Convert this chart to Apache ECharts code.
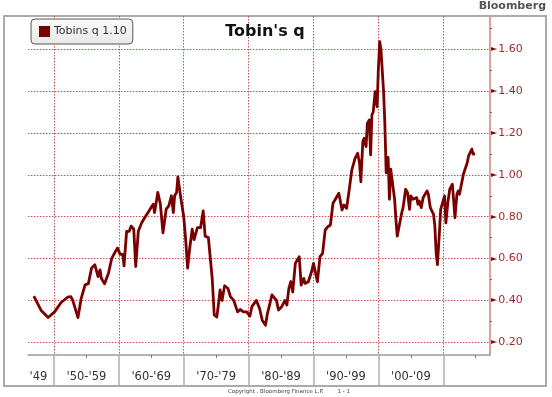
<!DOCTYPE html>
<html>
<head>
<meta charset="utf-8">
<title>Tobin's q</title>
<script src="https://cdn.jsdelivr.net/npm/echarts@6/dist/echarts.min.js"></script>
<style>
  html, body { margin: 0; padding: 0; background: #fff; }
</style>
</head>
<body>
<div id="main" style="width:552px;height:397px;"></div>
<script type="text/javascript">
// quarterly-ish readings of Tobin's q
var years = [
  1946.9, 1948.0, 1949.1, 1950.1, 1951.1, 1952.1, 1952.6, 1952.9, 1953.7, 1954.2,
  1954.8, 1955.3, 1955.8, 1956.3, 1956.8, 1957.1, 1957.3, 1957.8, 1958.4, 1958.9,
  1959.5, 1959.8, 1960.2, 1960.6, 1960.8, 1961.2, 1961.6, 1961.9, 1962.3, 1962.6,
  1963.0, 1963.5, 1964.0, 1964.5, 1964.9, 1965.3, 1965.5, 1966.0, 1966.4, 1966.8,
  1967.3, 1967.7, 1968.1, 1968.4, 1968.6, 1968.9, 1969.1, 1969.5, 1970.0, 1970.3,
  1970.6, 1970.9, 1971.3, 1971.6, 1972.1, 1972.6, 1973.0, 1973.3, 1973.8, 1974.4,
  1974.7, 1975.1, 1975.4, 1975.6, 1975.9, 1976.3, 1976.8, 1977.2, 1977.7, 1978.3,
  1978.7, 1979.2, 1979.7, 1980.2, 1980.5, 1981.2, 1981.7, 1982.1, 1982.6, 1982.9,
  1983.6, 1984.3, 1984.6, 1985.1, 1985.6, 1985.9, 1986.2, 1986.5, 1986.8, 1987.2,
  1987.5, 1987.8, 1988.1, 1988.5, 1988.7, 1989.2, 1989.7, 1990.0, 1990.3, 1990.6,
  1991.0, 1991.4, 1991.8, 1992.2, 1992.6, 1993.0, 1993.3, 1993.6, 1993.9, 1994.4,
  1994.7, 1995.1, 1995.5, 1995.9, 1996.4, 1996.8, 1997.1, 1997.3, 1997.6, 1997.8,
  1998.1, 1998.3, 1998.6, 1998.8, 1999.0, 1999.2, 1999.5, 1999.6, 1999.8, 2000.0,
  2000.2, 2000.4, 2000.8, 2001.0, 2001.2, 2001.5, 2001.7, 2001.9, 2002.2, 2002.5,
  2002.7, 2002.9, 2003.2, 2003.6, 2003.8, 2004.2, 2004.5, 2004.8, 2005.0, 2005.3,
  2005.6, 2005.9, 2006.1, 2006.3, 2006.6, 2006.9, 2007.2, 2007.5, 2007.7, 2008.0,
  2008.2, 2008.5, 2008.7, 2008.9, 2009.1, 2009.4, 2009.6, 2009.9, 2010.2, 2010.4,
  2010.7, 2011.0, 2011.4, 2011.6, 2011.8, 2012.1, 2012.3, 2012.5, 2012.7, 2012.9,
  2013.1, 2013.4, 2013.7, 2013.9, 2014.2, 2014.4, 2014.6, 2014.9
];
var qValues = [
  0.42, 0.353, 0.318, 0.345, 0.39, 0.415, 0.418, 0.40, 0.318, 0.41,
  0.474, 0.48, 0.555, 0.57, 0.514, 0.546, 0.506, 0.479, 0.53, 0.60,
  0.635, 0.65, 0.62, 0.62, 0.565, 0.73, 0.73, 0.755, 0.74, 0.562,
  0.73, 0.77, 0.796, 0.82, 0.84, 0.86, 0.82, 0.916, 0.86, 0.723,
  0.836, 0.852, 0.90, 0.82, 0.90, 0.916, 0.99, 0.90, 0.80, 0.69,
  0.554, 0.643, 0.74, 0.69, 0.748, 0.748, 0.828, 0.707, 0.70, 0.50,
  0.33, 0.32, 0.394, 0.45, 0.40, 0.47, 0.458, 0.418, 0.40, 0.345,
  0.357, 0.345, 0.345, 0.325, 0.37, 0.40, 0.36, 0.305, 0.281, 0.337,
  0.426, 0.40, 0.354, 0.37, 0.40, 0.378, 0.457, 0.49, 0.44, 0.577,
  0.593, 0.609, 0.473, 0.505, 0.481, 0.489, 0.537, 0.577, 0.577, 0.489,
  0.609, 0.625, 0.736, 0.752, 0.76, 0.864, 0.88, 0.888, 0.912, 0.832,
  0.856, 0.84, 0.927, 1.023, 1.079, 1.103, 1.055, 0.967, 1.159, 1.175,
  1.135, 1.246, 1.262, 1.095, 1.286, 1.30, 1.398, 1.39, 1.326, 1.509,
  1.637, 1.597, 1.398, 1.24, 1.01, 1.083, 0.883, 1.027, 1.027, 0.883,
  0.787, 0.707, 0.707, 0.819, 0.843, 0.931, 0.915, 0.835, 0.899, 0.883,
  0.883, 0.891, 0.859, 0.875, 0.843, 0.891, 0.907, 0.923, 0.907, 0.843,
  0.843, 0.811, 0.755, 0.627, 0.571, 0.723, 0.835, 0.867, 0.899, 0.771,
  0.867, 0.931, 0.955, 0.947, 0.795, 0.907, 0.923, 0.907, 0.939, 0.931,
  1.003, 1.003, 1.059, 1.091, 1.091, 1.123, 1.099, 1.10
];

// axis ticks and labels
var decadeTicks = [1950, 1960, 1970, 1980, 1990, 2000, 2010];
var halfDecadeTicks = [1945, 1955, 1965, 1975, 1985, 1995, 2005, 2015];
var decadeLabelPos = [1947.6, 1955, 1965, 1975, 1985, 1995, 2005];
var decadeLabels = ["'49", "'50-'59", "'60-'69", "'70-'79", "'80-'89", "'90-'99", "'00-'09"];
var yTicks = [0.2, 0.4, 0.6, 0.8, 1.0, 1.2, 1.4, 1.6];
var yMinorTicks = [0.3, 0.5, 0.7, 0.9, 1.1, 1.3, 1.5, 1.7];

var seriesName = 'Tobins q';
var lastValue = qValues[qValues.length - 1];

var lineData = [];
for (var i = 0; i < years.length; i++) {
  lineData.push([years[i], qValues[i]]);
}

var gridColor = '#cf4f4f';
var font = 'DejaVu Sans';

var myChart = echarts.init(document.getElementById('main'), null, { renderer: 'canvas' });

var option = {
  animation: false,
  backgroundColor: '#ffffff',
  textStyle: { fontFamily: font },
  grid: { left: 28, right: 62, top: 16, bottom: 42, containLabel: false },
  title: {
    text: "Tobin's q",
    left: 260,
    top: 19,
    textAlign: 'center',
    textStyle: { fontFamily: font, fontSize: 16, fontWeight: 'bold', color: '#111' }
  },
  legend: {
    left: 31,
    top: 19,
    icon: 'rect',
    itemWidth: 11,
    itemHeight: 11,
    padding: [7, 6, 7, 8],
    borderColor: '#555',
    borderWidth: 1,
    borderRadius: 4,
    backgroundColor: new echarts.graphic.LinearGradient(0, 0, 0, 1, [
      { offset: 0, color: '#fbfbfb' },
      { offset: 1, color: '#e8e8e8' }
    ]),
    data: [seriesName],
    formatter: function (name) {
      return name + ' ' + lastValue.toFixed(2);
    },
    textStyle: { fontFamily: font, fontSize: 11, color: '#333', padding: [0, 0, 0, -1] }
  },
  graphic: [
    {
      type: 'rect',
      z: -10,
      shape: { x: 4, y: 16, width: 542, height: 370 },
      style: { fill: 'none', stroke: '#ababab', lineWidth: 2 }
    },
    {
      type: 'text',
      right: 6,
      top: 1,
      style: { text: 'Bloomberg', fontFamily: font, fontSize: 11, fontWeight: 'bold', fill: '#555' }
    },
    {
      type: 'text',
      left: 228,
      top: 389,
      style: { text: 'Copyright . Bloomberg Finance L.P.        1 - 1', fontFamily: font, fontSize: 5.5, fill: '#444' }
    }
  ],
  xAxis: [
    {
      type: 'value',
      min: 1946.0,
      max: 2017.2,
      position: 'bottom',
      axisLine: { show: true, lineStyle: { color: '#9a9a9a', width: 1.5 } },
      axisTick: {
        show: true,
        customValues: decadeTicks,
        length: 31,
        lineStyle: { color: '#b0b0b0', width: 1.5 }
      },
      axisLabel: {
        customValues: decadeLabelPos,
        margin: 16,
        fontFamily: font,
        fontSize: 11.5,
        color: '#333',
        formatter: function (v) {
          var idx = decadeLabelPos.indexOf(v);
          return idx >= 0 ? decadeLabels[idx] : '';
        }
      },
      splitLine: { show: true, lineStyle: { color: gridColor, type: [1.5, 1.5], width: 1 } }
    },
    {
      type: 'value',
      min: 1946.0,
      max: 2017.2,
      position: 'bottom',
      axisLine: { show: false },
      axisTick: { show: true, customValues: halfDecadeTicks, length: 3, lineStyle: { color: '#777', width: 1 } },
      axisLabel: { show: false },
      splitLine: { show: false }
    }
  ],
  yAxis: [
    {
      type: 'value',
      position: 'right',
      min: 0.139,
      max: 1.759,
      axisLine: { show: true, lineStyle: { color: '#dba4a4', width: 2 } },
      axisTick: { show: true, customValues: yTicks, length: 0 },
      axisLabel: {
        customValues: yTicks,
        margin: 1,
        fontFamily: font,
        fontSize: 11,
        color: '#9e2a2a',
        formatter: function (v) {
          return '{t|\u25BA}' + v.toFixed(2);
        },
        rich: {
          t: { fontSize: 8, color: '#8b0000', padding: [0, 1, 0, 0] }
        }
      },
      splitLine: { show: true, lineStyle: { color: gridColor, type: [1.5, 1.5], width: 1 } }
    },
    {
      type: 'value',
      position: 'right',
      min: 0.139,
      max: 1.759,
      axisLine: { show: false },
      axisTick: { show: true, customValues: yMinorTicks, length: 2, lineStyle: { color: '#b05050', width: 1 } },
      axisLabel: { show: false },
      splitLine: { show: false }
    }
  ],
  series: [
    {
      name: seriesName,
      type: 'line',
      xAxisIndex: 0,
      yAxisIndex: 0,
      data: lineData,
      showSymbol: false,
      symbol: 'none',
      clip: true,
      color: '#7a0000',
      lineStyle: { color: '#7a0000', width: 2.8, join: 'round' }
    }
  ]
};

myChart.setOption(option);
</script>
</body>
</html>
